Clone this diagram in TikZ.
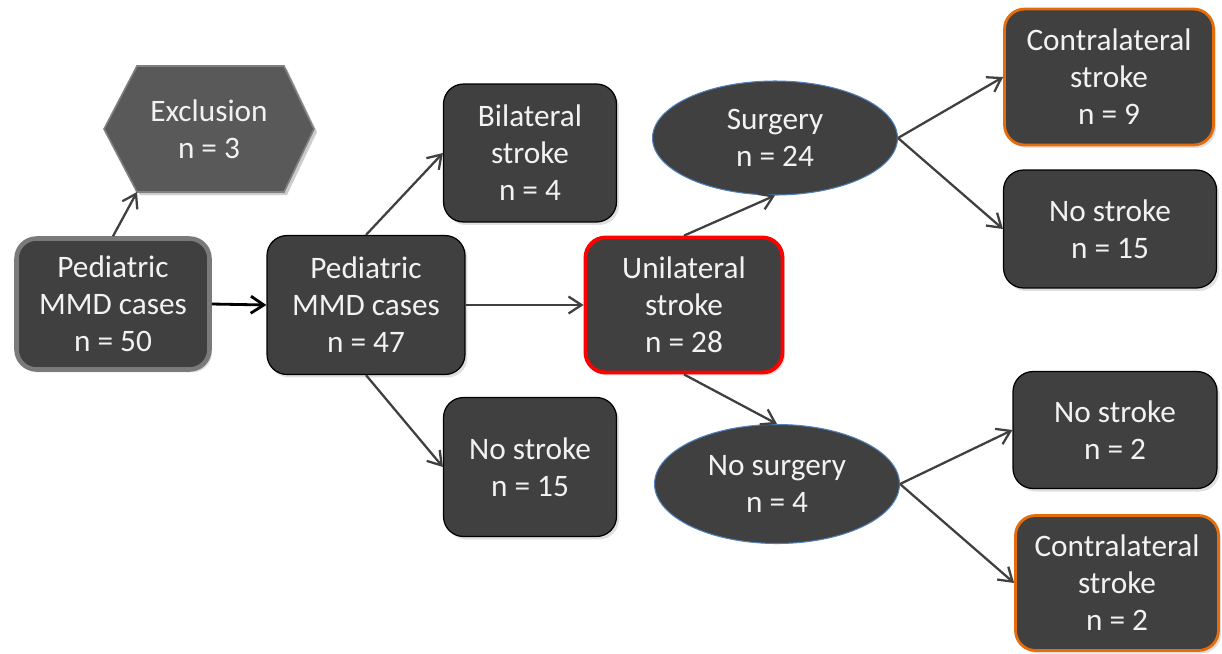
\documentclass[tikz,border=0pt]{standalone}
\usepackage{fontspec}
\setmainfont{Carlito}
\usetikzlibrary{arrows.meta,shapes.geometric,shadows}
\definecolor{boxfill}{HTML}{404040}
\definecolor{exclfill}{HTML}{595959}
\definecolor{exclborder}{HTML}{808080}
\definecolor{txt}{HTML}{F2F2F2}
\definecolor{arr}{HTML}{404040}
\definecolor{orangeb}{HTML}{E46C0A}
\definecolor{blueb}{HTML}{4F81BD}
\definecolor{grayb}{HTML}{7A7A7A}
\begin{document}
\begin{tikzpicture}[x=0.02cm,y=-0.02cm,
  lbl/.style={text=txt,align=center,font=\fontsize{17.8}{21}\selectfont,inner sep=0pt},
  box/.style={lbl,draw=black,line width=0.7pt,fill=boxfill,rounded corners=0.4cm,
    drop shadow={opacity=0.25,shadow xshift=0.05cm,shadow yshift=-0.06cm}},
  oval/.style={lbl,ellipse,draw=blueb,line width=0.6pt,fill=boxfill,
    minimum width=4.9cm,minimum height=2.28cm},
  conn/.style={draw=arr,line width=1.3pt,-{Straight Barb[length=2.6mm,width=3.4mm]}}
]
\useasboundingbox (0,0) rectangle (1222,653);
% nodes
\node[box,draw=grayb,line width=2.6pt,minimum width=3.86cm,minimum height=2.62cm] (n50) at (113,304) {Pediatric\\MMD cases\\n = 50};
\node[box,minimum width=3.96cm,minimum height=2.78cm] (n47) at (366,305) {Pediatric\\MMD cases\\n = 47};
\node[box,minimum width=3.46cm,minimum height=2.76cm] (bil) at (530,153) {Bilateral\\stroke\\n = 4};
\node[box,minimum width=3.46cm,minimum height=2.78cm] (nsA) at (530,467) {No stroke\\n = 15};
\node[box,draw=red,line width=2.2pt,minimum width=3.94cm,minimum height=2.7cm] (uni) at (684,305) {Unilateral\\stroke\\n = 28};
\node[oval] (surg) at (775,138) {Surgery\\n = 24};
\node[oval,minimum height=2.38cm] (nosurg) at (777,484) {No surgery\\n = 4};
\node[box,draw=orangeb,line width=1.6pt,minimum width=4.18cm,minimum height=2.72cm] (c9) at (1109,77) {Contralateral\\stroke\\n = 9};
\node[box,minimum width=4.26cm,minimum height=2.36cm] (nsB) at (1110,229) {No stroke\\n = 15};
\node[box,minimum width=4.08cm,minimum height=2.34cm] (nsC) at (1115,430) {No stroke\\n = 2};
\node[box,draw=orangeb,line width=1.6pt,minimum width=4.06cm,minimum height=2.7cm] (c2) at (1117,583) {Contralateral\\stroke\\n = 2};
% exclusion hexagon
\coordinate (excl) at (209,129);
\fill[black,opacity=0.2] ([shift={(-102,3)}]excl) -- ([shift={(-69,-60)}]excl) -- ([shift={(78,-60)}]excl) -- ([shift={(108,3)}]excl) -- ([shift={(78,66)}]excl) -- ([shift={(-69,66)}]excl) -- cycle;
\draw[fill=exclfill,draw=exclborder,line width=0.9pt] ([shift={(-105,0)}]excl) -- ([shift={(-72,-63)}]excl) -- ([shift={(75,-63)}]excl) -- ([shift={(105,0)}]excl) -- ([shift={(75,63)}]excl) -- ([shift={(-72,63)}]excl) -- cycle;
\node[lbl] (excltext) at (excl) {Exclusion\\n = 3};
\coordinate (exclBL) at ([shift={(-72,63)}]excl);
% connectors
\draw[conn,draw=black,line width=1.6pt] (n50.east) -- (n47.west);
\draw[conn] (n50.north) -- (exclBL);
\draw[conn] (n47.north) -- (bil.west);
\draw[conn] (n47.east) -- (uni.west);
\draw[conn] (n47.south) -- (nsA.west);
\draw[conn] (uni.north) -- (surg.south);
\draw[conn] (uni.south) -- (nosurg.north);
\draw[conn] (surg.east) -- (c9.west);
\draw[conn] (surg.east) -- (nsB.west);
\draw[conn] (nosurg.east) -- (nsC.west);
\draw[conn] (nosurg.east) -- (c2.west);
\end{tikzpicture}
\end{document}
